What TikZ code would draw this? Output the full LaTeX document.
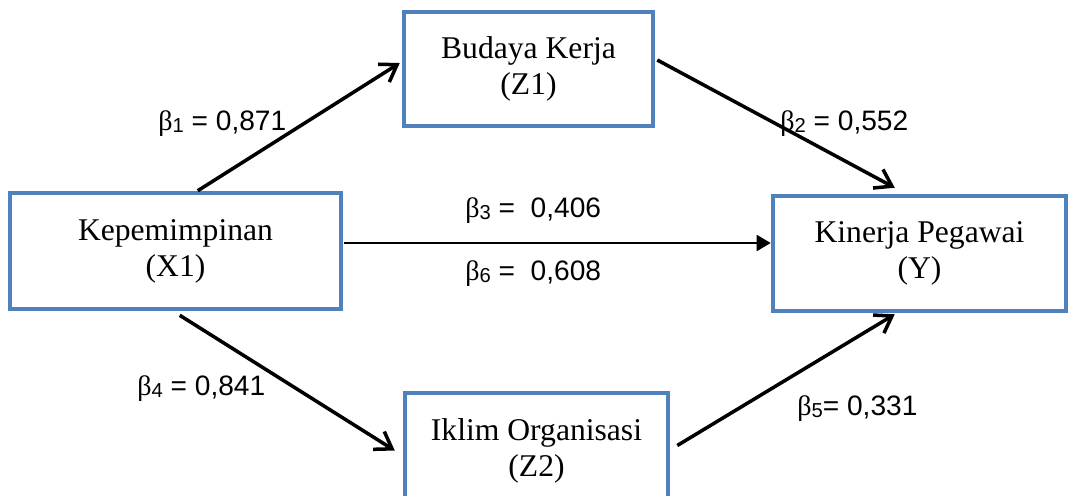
\documentclass[tikz,border=0pt]{standalone}
\usepackage{fontspec}
\setmainfont{Liberation Serif}
\newfontfamily\lsans{Liberation Sans}
\usetikzlibrary{arrows.meta,calc}
\definecolor{boxblue}{RGB}{79,129,189}
\newcommand\bet[1]{{\rmfamily β}\raisebox{-0.1em}{\fontsize{11.5}{12}\selectfont #1}}
\begin{document}
\begin{tikzpicture}[x=0.02cm,y=-0.02cm,
  box/.style={draw=boxblue,line width=2.6pt,fill=white,align=center,inner sep=0pt,
    font=\fontsize{18}{20.5}\selectfont},
  barb/.style={line width=2pt,-{Straight Barb[length=9pt,width=12pt]}},
  tri/.style={line width=1.4pt,-{Triangle[length=8pt,width=9pt]}},
  lab/.style={inner sep=0pt,anchor=base west,font=\lsans\fontsize{16}{18}\selectfont}]
\useasboundingbox (0,0) rectangle (1070,495);
\clip (0,0) rectangle (1070,495);
\node[box,minimum width=4.98cm,minimum height=2.28cm] (Z1) at (528.5,69) {Budaya Kerja\\(Z1)};
\node[box,minimum width=6.62cm,minimum height=2.32cm] (X1) at (175.5,251) {Kepemimpinan\\(X1)};
\node[box,minimum width=5.86cm,minimum height=2.30cm] (Y) at (919.5,253.5) {Kinerja Pegawai\\(Y)};
\node[box,minimum width=5.26cm,minimum height=2.30cm] (Z2) at (536.5,450.5) {Iklim Organisasi\\(Z2)};
% connectors
\draw[barb] ($(X1.north west)+(190,0)$) -- ($(Z1.west)+(-2,-6)$);
\draw[barb] ($(Z1.east)+(2,-9)$) -- ($(Y.north west)+(124,-6)$);
\draw[tri] ($(X1.east)+(1,-8)$) coordinate (h) -- (h -| Y.west);
\draw[barb] ($(X1.south west)+(172,4)$) -- ($(Z2.west)+(-8,0)$);
\draw[barb] ($(Z2.east)+(7,-5)$) -- ($(Y.south west)+(124,1)$);
% labels
\node[lab] (b1) at (158,130) {\bet{1} = 0,871};
\node[lab] (b2) at (780,130) {\bet{2} = 0,552};
\node[lab] (b3) at (465,217) {\bet{3} =\ \ 0,406};
\node[lab] (b6) at (465,280) {\bet{6} =\ \ 0,608};
\node[lab] (b4) at (137,395) {\bet{4} = 0,841};
\node[lab] (b5) at (797,415) {\bet{5}= 0,331};
\end{tikzpicture}
\end{document}
